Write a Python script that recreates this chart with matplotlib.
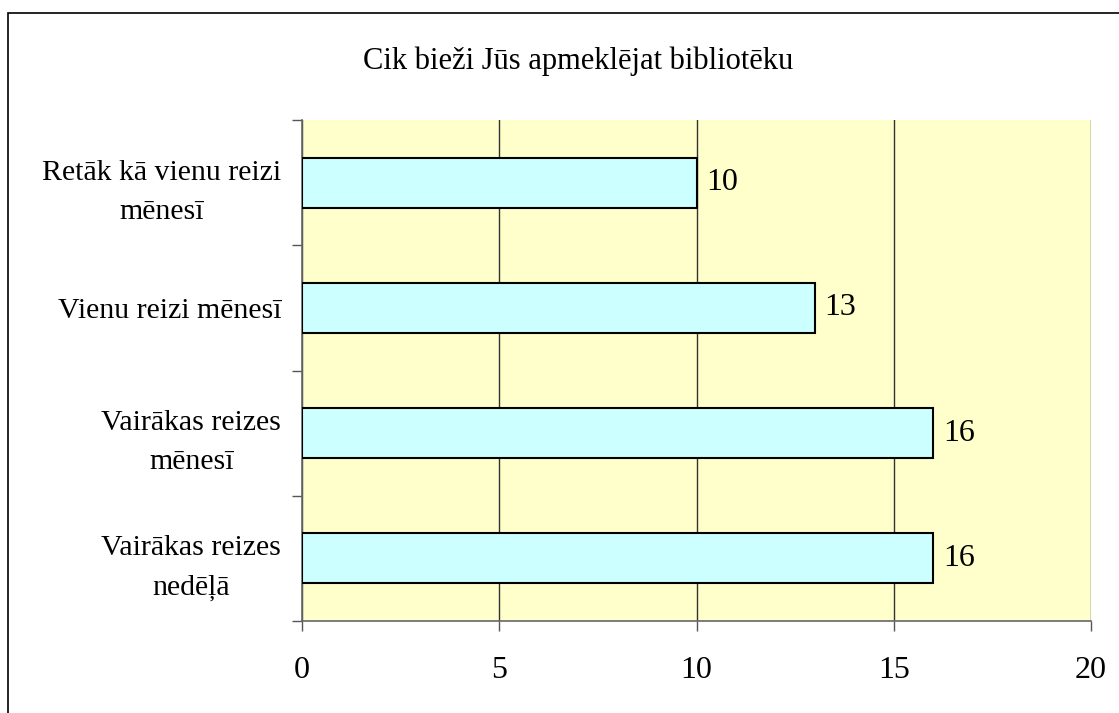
import matplotlib
matplotlib.use("Agg")
import matplotlib.pyplot as plt
from matplotlib.patches import Rectangle

categories = ["Vairākas reizes\nnedēļā", "Vairākas reizes\nmēnesī",
              "Vienu reizi mēnesī", "Retāk kā vienu reizi\nmēnesī"]
values = [16, 16, 13, 10]
xticks = [0, 5, 10, 15, 20]
title = "Cik bieži Jūs apmeklējat bibliotēku"

plt.rcParams['font.family'] = ['Liberation Serif', 'DejaVu Serif']

W, H = 1119, 713
fig = plt.figure(figsize=(W / 100, H / 100), dpi=100)
fig.patch.set_facecolor('white')

# figure border
fig.patches.append(Rectangle((8 / W, -0.05), 1.2, 1 - 13 / H + 0.05,
                             transform=fig.transFigure, fill=False,
                             edgecolor='black', linewidth=1.2))

left, right, top, bottom = 302, 1091, 120, 621
ax = fig.add_axes([left / W, 1 - bottom / H, (right - left) / W, (bottom - top) / H])
ax.set_facecolor('#FFFFCC')

ypos = list(range(len(categories)))
ax.barh(ypos, values, height=0.4, color='#CCFFFF', edgecolor='black',
        linewidth=1.5, zorder=3)
for y, v in zip(ypos, values):
    ax.text(v + 0.25, y, str(v), va='center', ha='left', fontsize=23, zorder=4)

ax.set_xlim(0, 20)
ax.set_ylim(-0.5, len(categories) - 0.5)
ax.set_xticks(xticks)
ax.set_xticklabels([str(t) for t in xticks], fontsize=23)
ax.xaxis.grid(True, color='#333333', linewidth=1.0, zorder=1)
ax.set_axisbelow(True)

ax.set_yticks([y for y in ypos])
ax.set_yticklabels(categories, fontsize=21.5, ha='right', multialignment='center',
                   linespacing=1.65)
ax.tick_params(axis='y', length=0, pad=15)
# minor ticks at category boundaries
ax.set_yticks([y - 0.5 for y in ypos] + [len(categories) - 0.5], minor=True)
ax.tick_params(axis='y', which='minor', length=7, color='#555555', width=1.0)
ax.tick_params(axis='x', length=7, color='#555555', width=1.0, pad=18)

for s in ['top', 'right']:
    ax.spines[s].set_visible(False)
for s in ['left', 'bottom']:
    ax.spines[s].set_color('#666666')
    ax.spines[s].set_linewidth(1.2)

fig.text(578 / W, 1 - 61 / H, title, ha='center', va='center', fontsize=22)

fig.savefig('out.png', dpi=100)
